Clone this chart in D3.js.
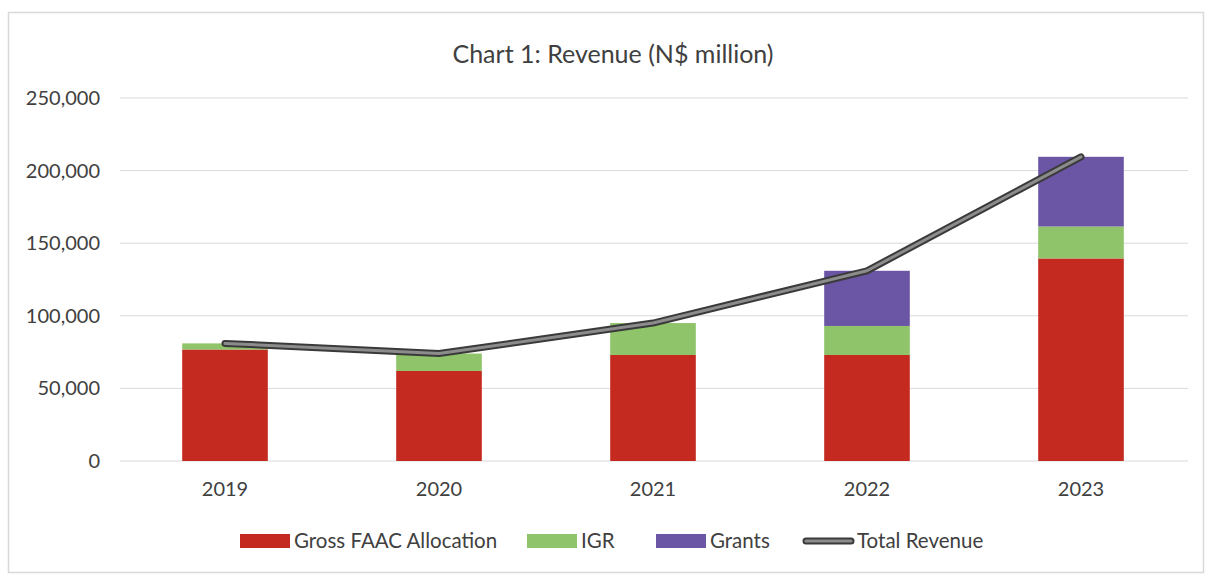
<!DOCTYPE html>
<html>
<head>
<meta charset="utf-8">
<script src="https://cdn.jsdelivr.net/npm/d3@7"></script>
<style>
  html, body { margin: 0; padding: 0; background: #ffffff; }
  svg { display: block; }
  text { font-family: Lato, "Open Sans", sans-serif; fill: #404040; }
</style>
</head>
<body>
<svg id="chart" width="1207" height="574"></svg>
<script>
// Revenue by source, N$ million
const years = ["2019", "2020", "2021", "2022", "2023"];
const faac = [76800, 62000, 73000, 73000, 139500];
const igr = [4200, 12000, 22000, 20000, 22000];
const grants = [0, 0, 0, 38000, 48000];
const totalRevenue = [81000, 74000, 95000, 131000, 209500];
const yTicks = [0, 50000, 100000, 150000, 200000, 250000];

const seriesNames = ["Gross FAAC Allocation", "IGR", "Grants"];
const seriesColors = ["#c42a1f", "#8fc46a", "#6b55a5"];

const svg = d3.select("#chart");
const W = 1207, H = 574;

// outer frame
svg.append("rect")
  .attr("x", 8.5).attr("y", 12.5)
  .attr("width", W - 12).attr("height", H - 14)
  .attr("fill", "none").attr("stroke", "#d9d9d9").attr("stroke-width", 1.5);

const x = d3.scaleBand().domain(years).range([118, 1188]).paddingInner(0.6).paddingOuter(0.3);
const y = d3.scaleLinear().domain([0, 250000]).range([461, 98]);

// gridlines
svg.append("g")
  .selectAll("line")
  .data(yTicks)
  .join("line")
  .attr("x1", 120).attr("x2", 1188)
  .attr("y1", d => y(d)).attr("y2", d => y(d))
  .attr("stroke", "#d9d9d9").attr("stroke-width", 1);

// y axis labels
const yAxis = d3.axisLeft(y).tickValues(yTicks).tickSize(0).tickPadding(0)
  .tickFormat(d3.format(","));
const gy = svg.append("g").attr("transform", "translate(100,0)").call(yAxis);
gy.select(".domain").remove();
gy.selectAll("text").style("font-size", "20px").attr("fill", "#404040")
  .style("font-family", "Lato, 'Open Sans', sans-serif");

// x axis labels
const xAxis = d3.axisBottom(x).tickSize(0).tickPadding(0);
const gx = svg.append("g").attr("transform", "translate(0,482)").call(xAxis);
gx.select(".domain").remove();
gx.selectAll("text").style("font-size", "20px").attr("fill", "#404040")
  .style("font-family", "Lato, 'Open Sans', sans-serif");

// stacked bars
const rows = years.map((yr, i) => ({ year: yr, faac: faac[i], igr: igr[i], grants: grants[i] }));
const stack = d3.stack().keys(["faac", "igr", "grants"]);
const layers = stack(rows);

svg.append("g")
  .selectAll("g")
  .data(layers)
  .join("g")
  .attr("fill", (d, i) => seriesColors[i])
  .selectAll("rect")
  .data(d => d)
  .join("rect")
  .attr("x", d => x(d.data.year))
  .attr("width", x.bandwidth())
  .attr("y", d => y(d[1]))
  .attr("height", d => Math.max(0, y(d[0]) - y(d[1])));

// total revenue line: dark outline with lighter core
const line = d3.line()
  .x((d, i) => x(years[i]) + x.bandwidth() / 2)
  .y(d => y(d));

svg.append("path")
  .datum(totalRevenue)
  .attr("d", line)
  .attr("fill", "none").attr("stroke", "#3a3a3a")
  .attr("stroke-width", 7).attr("stroke-linecap", "round").attr("stroke-linejoin", "round");
svg.append("path")
  .datum(totalRevenue)
  .attr("d", line)
  .attr("fill", "none").attr("stroke", "#8c8c8c")
  .attr("stroke-width", 3).attr("stroke-linecap", "round").attr("stroke-linejoin", "round");

// title
svg.append("text")
  .attr("x", 613).attr("y", 63)
  .attr("text-anchor", "middle")
  .style("font-size", "25px")
  .text("Chart 1: Revenue (N$ million)");

// legend
const legendY = 541;
const legendItems = [
  { name: seriesNames[0], color: seriesColors[0], x: 240, type: "rect" },
  { name: seriesNames[1], color: seriesColors[1], x: 527, type: "rect" },
  { name: seriesNames[2], color: seriesColors[2], x: 656, type: "rect" },
  { name: "Total Revenue", color: "#3a3a3a", x: 803, type: "line" }
];
const lg = svg.append("g");
legendItems.forEach(it => {
  if (it.type === "rect") {
    lg.append("rect")
      .attr("x", it.x).attr("y", legendY - 7)
      .attr("width", 50).attr("height", 14)
      .attr("fill", it.color);
  } else {
    lg.append("line")
      .attr("x1", it.x + 3).attr("x2", it.x + 48)
      .attr("y1", legendY).attr("y2", legendY)
      .attr("stroke", "#3a3a3a").attr("stroke-width", 7).attr("stroke-linecap", "round");
    lg.append("line")
      .attr("x1", it.x + 3).attr("x2", it.x + 48)
      .attr("y1", legendY).attr("y2", legendY)
      .attr("stroke", "#8c8c8c").attr("stroke-width", 3).attr("stroke-linecap", "round");
  }
  lg.append("text")
    .attr("x", it.x + 54).attr("y", legendY)
    .attr("dy", "0.35em")
    .style("font-size", "20.5px")
    .text(it.name);
});
</script>
</body>
</html>
